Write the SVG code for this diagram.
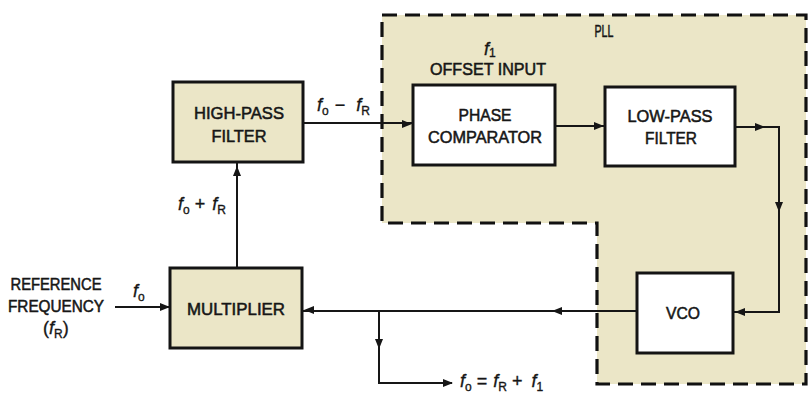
<svg xmlns="http://www.w3.org/2000/svg" xmlns:xlink="http://www.w3.org/1999/xlink" width="810" height="394" viewBox="0 0 810 394">
<style>
  .box { stroke: #141414; stroke-width: 3; }
  .tint { fill: #ebe6c7; }
  .white { fill: #ffffff; }
  .lbl { font-family: "Liberation Sans", Arial, sans-serif; font-size: 17px; fill: #161616; stroke: #161616; stroke-width: 0.55; text-anchor: middle; }
  .math { font-family: "Liberation Sans", Arial, sans-serif; font-size: 18px; fill: #161616; stroke: #161616; stroke-width: 0.35; }
  .it { font-style: italic; }
  .sub { font-size: 12px; }
  .wire { fill: none; stroke: #161616; stroke-width: 2; }
  .pll { fill: #ebe6c7; stroke: #111; stroke-width: 3.2; stroke-dasharray: 15 8; }
</style>
<defs>
  <path id="ah" d="M0,0 L-10,-4 L-10,4 Z" fill="#161616"/>
</defs>
<rect width="810" height="394" fill="#ffffff"/>

<g id="pll">
  <path class="pll" d="M382,15 H806 V384 H597 V223 H382 Z"/>
  <text class="lbl" x="604" y="37" font-size="13" textLength="19" lengthAdjust="spacingAndGlyphs">PLL</text>
  <text class="math" x="484" y="55" font-size="13"><tspan class="it">f</tspan><tspan class="sub" font-size="8" dy="2">1</tspan></text>
  <text class="lbl" x="488" y="75" font-size="15" textLength="116" lengthAdjust="spacingAndGlyphs">OFFSET INPUT</text>
</g>

<g id="highpass">
  <rect class="box tint" x="173" y="82" width="130" height="80"/>
  <text class="lbl" x="239" y="119" textLength="90" lengthAdjust="spacingAndGlyphs">HIGH-PASS</text>
  <text class="lbl" x="239" y="142" textLength="55" lengthAdjust="spacingAndGlyphs">FILTER</text>
</g>

<g id="multiplier">
  <rect class="box tint" x="170" y="268" width="132" height="80"/>
  <text class="lbl" x="236" y="315" textLength="98" lengthAdjust="spacingAndGlyphs">MULTIPLIER</text>
</g>

<g id="phase">
  <rect class="box white" x="413" y="85" width="142" height="80"/>
  <text class="lbl" x="485" y="121" textLength="53" lengthAdjust="spacingAndGlyphs">PHASE</text>
  <text class="lbl" x="485" y="143" textLength="114" lengthAdjust="spacingAndGlyphs">COMPARATOR</text>
</g>

<g id="lowpass">
  <rect class="box white" x="605" y="87" width="130" height="79"/>
  <text class="lbl" x="670" y="122" textLength="85" lengthAdjust="spacingAndGlyphs">LOW-PASS</text>
  <text class="lbl" x="671" y="144" textLength="52" lengthAdjust="spacingAndGlyphs">FILTER</text>
</g>

<g id="vco">
  <rect class="box white" x="637" y="273" width="96" height="80"/>
  <text class="lbl" x="683" y="319" textLength="34" lengthAdjust="spacingAndGlyphs">VCO</text>
</g>

<g id="reference">
  <text class="lbl" x="56" y="290" textLength="91" lengthAdjust="spacingAndGlyphs">REFERENCE</text>
  <text class="lbl" x="56" y="312" textLength="96" lengthAdjust="spacingAndGlyphs">FREQUENCY</text>
  <text class="math" x="43" y="334">(<tspan class="it">f</tspan><tspan class="sub" dy="4">R</tspan><tspan dy="-4">)</tspan></text>
</g>

<g id="connectors">
  <path class="wire" d="M115,307 H170"/>
  <use xlink:href="#ah" transform="translate(170,307)"/>
  <text class="math" x="133" y="297"><tspan class="it">f</tspan><tspan class="sub" dy="4">o</tspan></text>

  <path class="wire" d="M237,268 V162"/>
  <use xlink:href="#ah" transform="translate(237,166) rotate(-90)"/>
  <text class="math" x="178" y="210"><tspan class="it">f</tspan><tspan class="sub" dy="4">o</tspan><tspan dy="-4" dx="5">+</tspan><tspan class="it" dx="7">f</tspan><tspan class="sub" dy="4">R</tspan></text>

  <path class="wire" d="M303,123 H413"/>
  <use xlink:href="#ah" transform="translate(412,124)"/>
  <text class="math" x="317" y="111"><tspan class="it">f</tspan><tspan class="sub" dy="4">o</tspan><tspan dy="-4" dx="6">−</tspan><tspan class="it" dx="11">f</tspan><tspan class="sub" dy="4">R</tspan></text>

  <path class="wire" d="M555,126 H605"/>
  <use xlink:href="#ah" transform="translate(604,126)"/>

  <path class="wire" d="M735,127 H779 V312 H733"/>
  <use xlink:href="#ah" transform="translate(765,127)"/>
  <use xlink:href="#ah" transform="translate(779,212) rotate(90)"/>
  <use xlink:href="#ah" transform="translate(735,312) rotate(180)"/>

  <path class="wire" d="M637,311 H302"/>
  <use xlink:href="#ah" transform="translate(552,311) rotate(180)"/>
  <use xlink:href="#ah" transform="translate(304,310) rotate(180)"/>

  <path class="wire" d="M379,311 V383 H452"/>
  <use xlink:href="#ah" transform="translate(379,349) rotate(90)"/>
  <use xlink:href="#ah" transform="translate(453,383)"/>
  <text class="math" x="460" y="387"><tspan class="it">f</tspan><tspan class="sub" dy="4">o</tspan><tspan dy="-4" dx="5">=</tspan><tspan class="it" dx="6">f</tspan><tspan class="sub" dy="4">R</tspan><tspan dy="-4" dx="5">+</tspan><tspan class="it" dx="9">f</tspan><tspan class="sub" dy="4">1</tspan></text>
</g>
</svg>
